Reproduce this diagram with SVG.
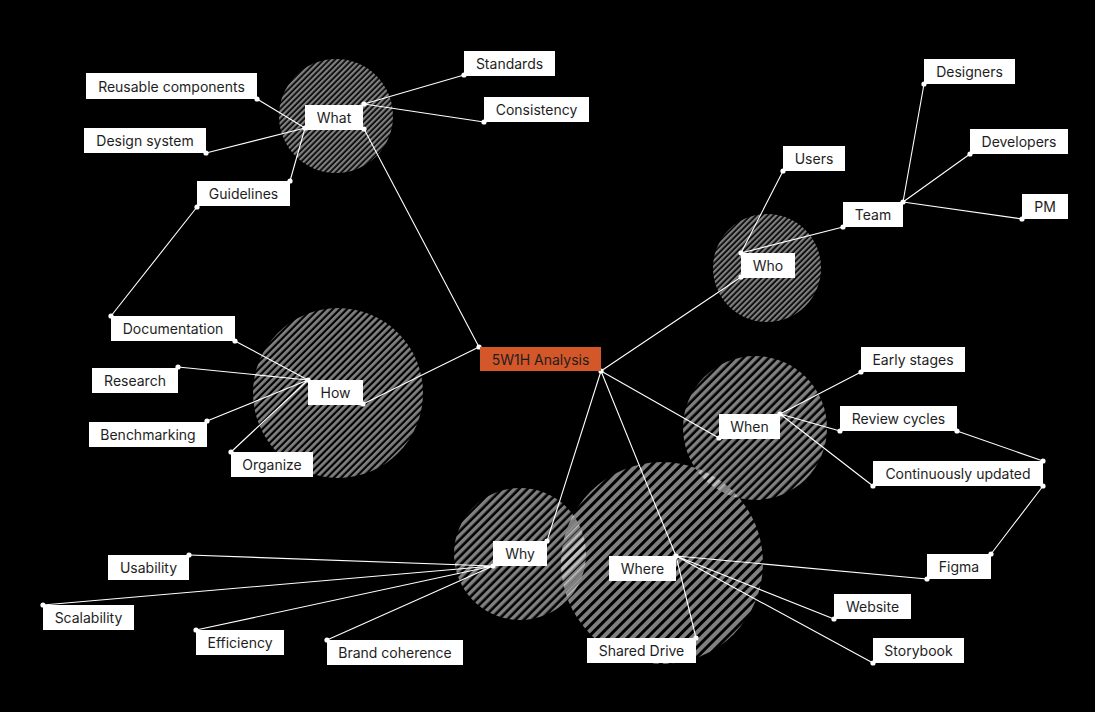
<svg xmlns="http://www.w3.org/2000/svg" width="1095" height="712" viewBox="0 0 1095 712">
<style>
.box{fill:#ffffff}
.lbl{font-family:Inter,"Liberation Sans",sans-serif;font-size:14px;fill:#1e1e1e;text-anchor:middle;dominant-baseline:central}
.edge{stroke:#ffffff;stroke-width:1.1;fill:none}
.dot{fill:#ffffff}
</style>
<defs>
<pattern id="h4" patternUnits="userSpaceOnUse" width="4" height="10" patternTransform="rotate(45)"><rect x="0" y="0" width="2.3" height="10" fill="#ffffff" fill-opacity="0.5"/></pattern>
<pattern id="h5" patternUnits="userSpaceOnUse" width="5" height="10" patternTransform="rotate(45)"><rect x="0" y="0" width="2.8" height="10" fill="#ffffff" fill-opacity="0.5"/></pattern>
<pattern id="h6" patternUnits="userSpaceOnUse" width="6" height="10" patternTransform="rotate(45)"><rect x="0" y="0" width="3.4" height="10" fill="#ffffff" fill-opacity="0.5"/></pattern>
<pattern id="h7" patternUnits="userSpaceOnUse" width="7" height="10" patternTransform="rotate(45)"><rect x="0" y="0" width="4" height="10" fill="#ffffff" fill-opacity="0.5"/></pattern>
</defs>
<rect x="0" y="0" width="1095" height="712" fill="#000000"/>
<g id="circles">
<circle cx="336" cy="116" r="57" fill="url(#h4)"/>
<circle cx="767" cy="268" r="54" fill="url(#h4)"/>
<circle cx="338" cy="393" r="85" fill="url(#h5)"/>
<circle cx="755" cy="428" r="72" fill="url(#h6)"/>
<circle cx="520" cy="554" r="66" fill="url(#h6)"/>
<circle cx="662" cy="563" r="101" fill="url(#h7)"/>
</g>
<g id="connectors">
<path class="edge" d="M364 129L479 347M363 404L479 347M601 371L741 277M601 371L719 438M601 371L547 541M601 371L676 556"/>
<path class="edge" d="M364 104L464 75M364 104L484 122M305 128L257 99M305 128L206 153M305 128L290 181M197 207L111 316"/>
<path class="edge" d="M308 380L235 341M308 380L178 367M308 380L207 421M308 380L231 452"/>
<path class="edge" d="M741 253L783 171M741 253L843 227M903 202L924 84M903 202L970 154M903 202L1022 219"/>
<path class="edge" d="M780 414L861 372M780 414L840 431M780 414L873 486M957 431L1043 461M1043 486L991 554"/>
<path class="edge" d="M493 566L189 555M493 566L43 605M493 566L196 630M493 566L327 640"/>
<path class="edge" d="M676 556L927 579M676 556L834 619M676 556L873 663M676 556L696 638"/>
<g class="dot">
<circle cx="479" cy="347" r="2.6"/><circle cx="601" cy="371" r="2.6"/>
<circle cx="364" cy="129" r="2.6"/><circle cx="363" cy="404" r="2.6"/><circle cx="741" cy="277" r="2.6"/><circle cx="719" cy="438" r="2.6"/><circle cx="547" cy="541" r="2.6"/><circle cx="676" cy="556" r="2.6"/>
<circle cx="364" cy="104" r="2.6"/><circle cx="464" cy="75" r="2.6"/><circle cx="484" cy="122" r="2.6"/><circle cx="305" cy="128" r="2.6"/><circle cx="257" cy="99" r="2.6"/><circle cx="206" cy="153" r="2.6"/><circle cx="290" cy="181" r="2.6"/><circle cx="197" cy="207" r="2.6"/><circle cx="111" cy="316" r="2.6"/>
<circle cx="308" cy="380" r="2.6"/><circle cx="235" cy="341" r="2.6"/><circle cx="178" cy="367" r="2.6"/><circle cx="207" cy="421" r="2.6"/><circle cx="231" cy="452" r="2.6"/>
<circle cx="741" cy="253" r="2.6"/><circle cx="783" cy="171" r="2.6"/><circle cx="843" cy="227" r="2.6"/><circle cx="903" cy="202" r="2.6"/><circle cx="924" cy="84" r="2.6"/><circle cx="970" cy="154" r="2.6"/><circle cx="1022" cy="219" r="2.6"/>
<circle cx="780" cy="414" r="2.6"/><circle cx="861" cy="372" r="2.6"/><circle cx="840" cy="431" r="2.6"/><circle cx="873" cy="486" r="2.6"/><circle cx="957" cy="431" r="2.6"/><circle cx="1043" cy="461" r="2.6"/><circle cx="1043" cy="486" r="2.6"/><circle cx="991" cy="554" r="2.6"/>
<circle cx="493" cy="566" r="2.6"/><circle cx="189" cy="555" r="2.6"/><circle cx="43" cy="605" r="2.6"/><circle cx="196" cy="630" r="2.6"/><circle cx="327" cy="640" r="2.6"/>
<circle cx="927" cy="579" r="2.6"/><circle cx="834" cy="619" r="2.6"/><circle cx="873" cy="663" r="2.6"/><circle cx="696" cy="638" r="2.6"/>
</g>
</g>
<g id="n-center"><rect x="480" y="347" width="121" height="24" fill="#d4572a"/><text class="lbl" x="540.5" y="359.5">5W1H Analysis</text></g>
<g id="n-what"><rect class="box" x="305" y="105" width="58" height="25"/><text class="lbl" x="334" y="117.5">What</text></g>
<g id="n-reusable"><rect class="box" x="86" y="73" width="171" height="26"/><text class="lbl" x="171.5" y="86">Reusable components</text></g>
<g id="n-standards"><rect class="box" x="464" y="51" width="91" height="25"/><text class="lbl" x="509.5" y="63.5">Standards</text></g>
<g id="n-consistency"><rect class="box" x="484" y="97" width="105" height="25"/><text class="lbl" x="536.5" y="109.5">Consistency</text></g>
<g id="n-designsystem"><rect class="box" x="84" y="128" width="122" height="25"/><text class="lbl" x="145" y="140.5">Design system</text></g>
<g id="n-guidelines"><rect class="box" x="197" y="181" width="93" height="25"/><text class="lbl" x="243.5" y="193.5">Guidelines</text></g>
<g id="n-users"><rect class="box" x="783" y="146" width="62" height="25"/><text class="lbl" x="814" y="158.5">Users</text></g>
<g id="n-designers"><rect class="box" x="924" y="59" width="91" height="25"/><text class="lbl" x="969.5" y="71.5">Designers</text></g>
<g id="n-developers"><rect class="box" x="970" y="129" width="98" height="25"/><text class="lbl" x="1019" y="141.5">Developers</text></g>
<g id="n-team"><rect class="box" x="843" y="202" width="60" height="25"/><text class="lbl" x="873" y="214.5">Team</text></g>
<g id="n-pm"><rect class="box" x="1022" y="194" width="46" height="25"/><text class="lbl" x="1045" y="206.5">PM</text></g>
<g id="n-who"><rect class="box" x="741" y="253" width="54" height="25"/><text class="lbl" x="768" y="265.5">Who</text></g>
<g id="n-documentation"><rect class="box" x="111" y="316" width="124" height="25"/><text class="lbl" x="173" y="328.5">Documentation</text></g>
<g id="n-early"><rect class="box" x="861" y="347" width="104" height="25"/><text class="lbl" x="913" y="359.5">Early stages</text></g>
<g id="n-research"><rect class="box" x="92" y="368" width="86" height="25"/><text class="lbl" x="135" y="380.5">Research</text></g>
<g id="n-how"><rect class="box" x="308" y="380" width="55" height="25"/><text class="lbl" x="335.5" y="392.5">How</text></g>
<g id="n-review"><rect class="box" x="840" y="406" width="117" height="25"/><text class="lbl" x="898.5" y="418.5">Review cycles</text></g>
<g id="n-when"><rect class="box" x="719" y="414" width="61" height="25"/><text class="lbl" x="749.5" y="426.5">When</text></g>
<g id="n-benchmarking"><rect class="box" x="89" y="422" width="118" height="25"/><text class="lbl" x="148" y="434.5">Benchmarking</text></g>
<g id="n-organize"><rect class="box" x="231" y="452" width="82" height="25"/><text class="lbl" x="272" y="464.5">Organize</text></g>
<g id="n-continuously"><rect class="box" x="873" y="461" width="170" height="25"/><text class="lbl" x="958" y="473.5">Continuously updated</text></g>
<g id="n-why"><rect class="box" x="493" y="541" width="54" height="25"/><text class="lbl" x="520" y="553.5">Why</text></g>
<g id="n-where"><rect class="box" x="609" y="556" width="67" height="25"/><text class="lbl" x="642.5" y="568.5">Where</text></g>
<g id="n-figma"><rect class="box" x="927" y="554" width="64" height="25"/><text class="lbl" x="959" y="566.5">Figma</text></g>
<g id="n-usability"><rect class="box" x="108" y="555" width="81" height="25"/><text class="lbl" x="148.5" y="567.5">Usability</text></g>
<g id="n-website"><rect class="box" x="834" y="594" width="77" height="25"/><text class="lbl" x="872.5" y="606.5">Website</text></g>
<g id="n-scalability"><rect class="box" x="43" y="605" width="91" height="25"/><text class="lbl" x="88.5" y="617.5">Scalability</text></g>
<g id="n-efficiency"><rect class="box" x="196" y="630" width="88" height="25"/><text class="lbl" x="240" y="642.5">Efficiency</text></g>
<g id="n-brand"><rect class="box" x="327" y="640" width="136" height="25"/><text class="lbl" x="395" y="652.5">Brand coherence</text></g>
<g id="n-shared"><rect class="box" x="587" y="638" width="109" height="25"/><text class="lbl" x="641.5" y="650.5">Shared Drive</text></g>
<g id="n-storybook"><rect class="box" x="873" y="638" width="91" height="25"/><text class="lbl" x="918.5" y="650.5">Storybook</text></g>
</svg>
